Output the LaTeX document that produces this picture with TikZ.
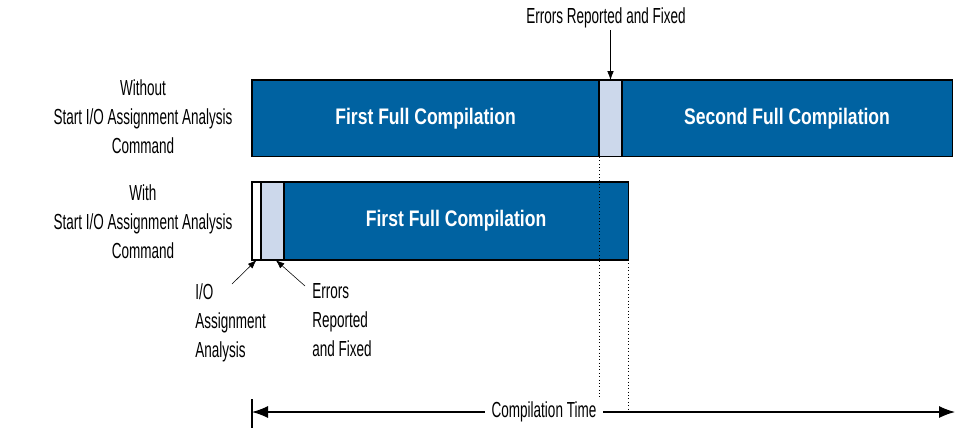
\documentclass[tikz,border=0pt]{standalone}
\usepackage{fontspec}
\setmainfont{Liberation Sans}[FakeStretch=0.62, BoldFeatures={FakeStretch=0.78}]
\usetikzlibrary{arrows.meta}

\definecolor{barblue}{HTML}{0062A1}
\definecolor{fixblue}{HTML}{CCD8EB}

\newcommand{\picfont}{\fontsize{15.5}{20.6}\selectfont}

\tikzset{
  bar/.style={draw=black, line width=0.8pt, anchor=north west, inner sep=0pt,
    outer sep=0pt, minimum height=1.92cm},
  blue bar/.style={bar, fill=barblue, text=white, font=\fontsize{16}{18}\selectfont\bfseries},
  fix bar/.style={bar, fill=fixblue, minimum width=0.575cm},
  lbl/.style={align=center, inner sep=1pt},
  side lbl/.style={align=left, anchor=north west, inner sep=0pt},
  small tip/.style={-{Latex[length=0.22cm,width=0.16cm]}},
  big tip/.style={{Latex[length=0.4cm,width=0.3cm]}-{Latex[length=0.4cm,width=0.3cm]}}
}

\begin{document}
\begin{tikzpicture}[x=0.025cm, y=-0.025cm, font=\picfont]
  \useasboundingbox (0,0) rectangle (956,430);

  % without the analysis command
  \node (wo) [lbl] at (143,117) {Without\\Start I/O Assignment Analysis\\Command};
  \node (full1) [blue bar, minimum width=8.675cm] at (252,80) {First Full Compilation};
  \node (err1) [fix bar] at (599,80) {};
  \node (full2) [blue bar, minimum width=8.25cm] at (622,80) {Second Full Compilation};
  \node (errtop) [lbl] at (606,18) {Errors Reported and Fixed};
  \draw[small tip] (errtop.south -| err1.north) -- (err1.north);

  % with the analysis command
  \node (wi) [lbl] at (143,222) {With\\Start I/O Assignment Analysis\\Command};
  \node (io) [bar, fill=white, minimum width=0.225cm, minimum height=1.95cm] at (252,182) {};
  \node (err2) [fix bar, minimum height=1.95cm] at (261,182) {};
  \node (full3) [blue bar, minimum width=8.6cm, minimum height=1.95cm] at (284,182) {First Full Compilation};
  \node (iolbl) [side lbl] at (195,283) {I/O\\Assignment\\Analysis};
  \node (errlbl) [side lbl] at (312,283) {Errors\\Reported\\and Fixed};
  \coordinate (iotail) at (232,284);
  \coordinate (errtail) at (305,286);
  \draw[small tip] (iotail) -- (io.south);
  \draw[small tip] (errtail) -- ([xshift=0.08cm]err2.south);

  % time axis
  \coordinate (t0) at (252,412);
  \coordinate (t1) at (955,412);
  \draw[line width=0.8pt] (252,399) -- (252,428);
  \draw[dotted] (err1.south west) -- (err1.south west |- t0);
  \draw[dotted] (full3.south east) -- (full3.south east |- t0);
  \draw[big tip, line width=0.8pt] (t0) -- (t1);
  \node (time) [fill=white, inner xsep=5pt, inner ysep=1pt] at (544,412) {Compilation Time};
\end{tikzpicture}
\end{document}
